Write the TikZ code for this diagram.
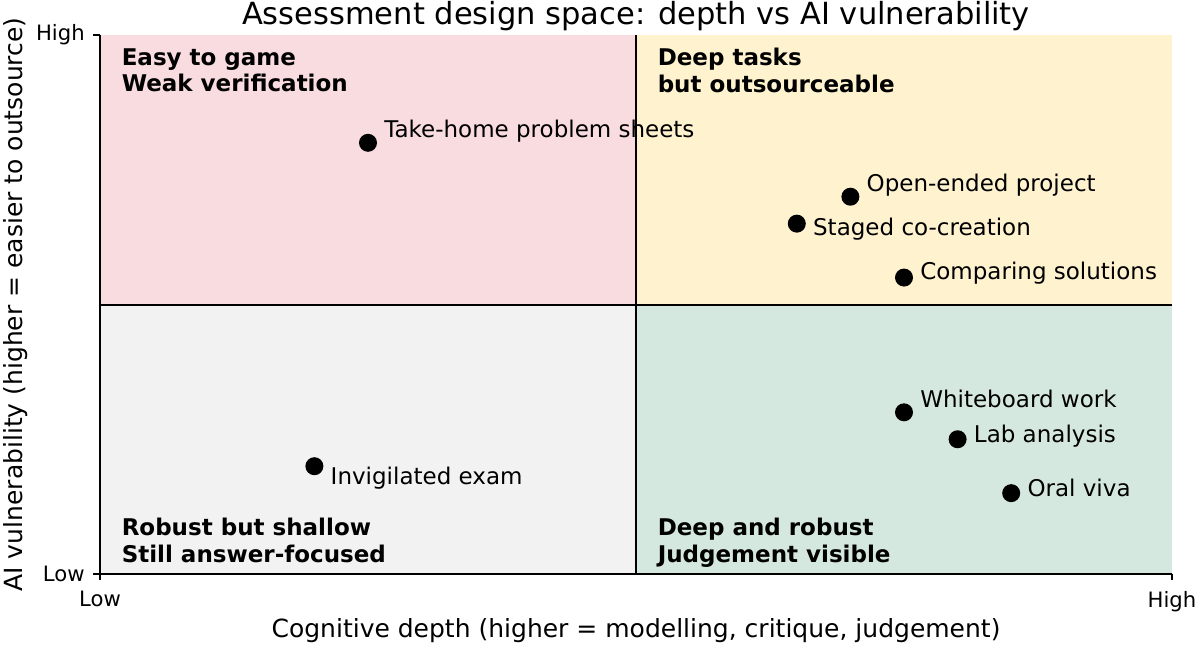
\documentclass[tikz,border=0pt]{standalone}
\usepackage{fontspec}
\setmainfont{DejaVu Sans}
\usepackage{tikz}
\usetikzlibrary{positioning}
\definecolor{gamepink}{HTML}{F9DCE0}
\definecolor{deepyellow}{HTML}{FEF2CF}
\definecolor{shallowgray}{HTML}{F2F2F2}
\definecolor{robustgreen}{HTML}{D5E8DF}

\begin{document}
\begin{tikzpicture}[x=64.32pt,y=32.34pt,
	dot/.style={circle,fill=black,inner sep=0pt,minimum size=10.8pt},
	ptlabel/.style={anchor=base west,inner sep=0pt,font=\fontsize{13.8}{16}\selectfont},
	quadlabel/.style={anchor=north west,align=left,inner sep=0pt,font=\fontsize{13.8}{15.9}\selectfont\bfseries},
	ticklabel/.style={inner sep=0pt,font=\fontsize{12.7}{14}\selectfont},
	axislabel/.style={inner sep=0pt,anchor=base,font=\fontsize{15}{17}\selectfont}]
	\useasboundingbox (-0.9328,-1.2987) rectangle (10.2612,10.6494);
	\fill[gamepink] (0,5) rectangle (5,10);
	\fill[deepyellow] (5,5) rectangle (10,10);
	\fill[shallowgray] (0,0) rectangle (5,5);
	\fill[robustgreen] (5,0) rectangle (10,5);
	\draw[line width=1.2pt] (5,0)--(5,10);
	\draw[line width=1.2pt] (0,5)--(10,5);
	\draw[line width=0.9pt] (0,10)--(0,0)--(10,0);
	\draw[line width=0.9pt] (0,10)--++(-4.2pt,0);
	\draw[line width=0.9pt] (0,0)--++(-4.2pt,0);
	\draw[line width=0.9pt] (0,0)--++(0,-3.6pt);
	\draw[line width=0.9pt] (10,0)--++(0,-3.6pt);
	\node[ticklabel,anchor=east,xshift=-9pt] (yhigh) at (0,10) {High};
	\node[ticklabel,anchor=east,xshift=-9pt] (ylow) at (0,0) {Low};
	\node[ticklabel,anchor=north,yshift=-10pt] (xlow) at (0,0) {Low};
	\node[ticklabel,anchor=north,yshift=-10pt] (xhigh) at (10,0) {High};
	\node[anchor=base,inner sep=0pt,font=\fontsize{18.3}{21}\selectfont] (title) at (5,10.186) {Assessment design space: depth vs AI vulnerability};
	\node[axislabel] (xlabel) at (5,-1.169) {Cognitive depth (higher = modelling, critique, judgement)};
	\node[axislabel,rotate=90] (ylabel) at (-0.725,5) {AI vulnerability (higher = easier to outsource)};
	\node[quadlabel] (gameq) at (0.2,9.759) {Easy to game\\Weak verification};
	\node[quadlabel] (deepq) at (5.2,9.759) {Deep tasks\\but outsourceable};
	\node[quadlabel] (shallowq) at (0.2,1.039) {Robust but shallow\\Still answer-focused};
	\node[quadlabel] (robustq) at (5.2,1.039) {Deep and robust\\Judgement visible};
	\node[dot] (takehome) at (2.5,8) {};
	\node[ptlabel,xshift=9.6pt,yshift=3pt] (takehomelbl) at (takehome) {Take-home problem sheets};
	\node[dot] (project) at (7,7) {};
	\node[ptlabel,xshift=9.6pt,yshift=3pt] (projectlbl) at (project) {Open-ended project};
	\node[dot] (staged) at (6.5,6.5) {};
	\node[ptlabel,xshift=9.6pt,yshift=-7.2pt] (stagedlbl) at (staged) {Staged co-creation};
	\node[dot] (compare) at (7.5,5.5) {};
	\node[ptlabel,xshift=9.6pt,yshift=-1.2pt] (comparelbl) at (compare) {Comparing solutions};
	\node[dot] (board) at (7.5,3) {};
	\node[ptlabel,xshift=9.6pt,yshift=3pt] (boardlbl) at (board) {Whiteboard work};
	\node[dot] (lab) at (8,2.5) {};
	\node[ptlabel,xshift=9.6pt,yshift=-1.8pt] (lablbl) at (lab) {Lab analysis};
	\node[dot] (viva) at (8.5,1.5) {};
	\node[ptlabel,xshift=9.6pt,yshift=-1.8pt] (vivalbl) at (viva) {Oral viva};
	\node[dot] (exam) at (2,2) {};
	\node[ptlabel,xshift=9.6pt,yshift=-10.8pt] (examlbl) at (exam) {Invigilated exam};
\end{tikzpicture}
\end{document}
